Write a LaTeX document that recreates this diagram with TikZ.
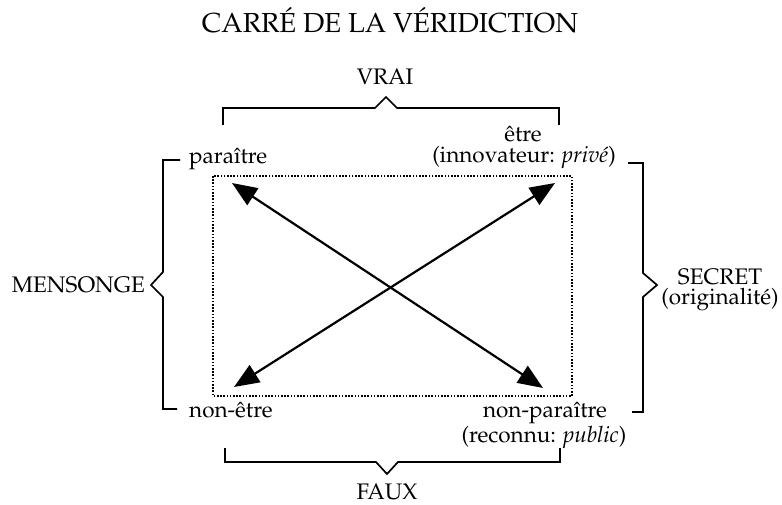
\documentclass[tikz,border=0pt]{standalone}
\usepackage[T1]{fontenc}
\usepackage{mathpazo}
\usetikzlibrary{arrows.meta}
\begin{document}
\begin{tikzpicture}[x=1pt,y=-1pt,
  lab/.style={font=\fontsize{22.5}{26}\selectfont, inner sep=0pt},
  ttl/.style={font=\fontsize{27.5}{32}\selectfont, inner sep=0pt},
  brace/.style={line width=1.7pt, line join=miter},
  dbl/.style={line width=2.2pt, {Triangle[length=25pt,width=20pt]}-{Triangle[length=25pt,width=20pt]}},
  frame/.style={line width=1.6pt, dash pattern=on 1.6pt off 1.6pt}]
\useasboundingbox (0,0) rectangle (782,505);
% title
\node[ttl, anchor=base] (title) at (390,33) {CARR\'E DE LA V\'ERIDICTION};
% braces
\node[lab, anchor=base] (vrai) at (385,85) {VRAI};
\draw[brace] (223,125) -- (223,108) -- (375,108) -- (386,97) -- (397,108) -- (559,108) -- (559,125);
\node[lab, anchor=base] (faux) at (387,499) {FAUX};
\draw[brace] (225,448) -- (225,462) -- (376,462) -- (387,474) -- (398,462) -- (560,462) -- (560,448);
\node[lab, anchor=base east] (mens) at (145,292) {MENSONGE};
\draw[brace] (180,160) -- (163,160) -- (163,272) -- (151,285) -- (163,297) -- (163,409) -- (177,409);
\node[lab, anchor=base] (secret) at (720,284) {SECRET};
\node[lab, anchor=base] (orig) at (720,305) {(originalit\'e)};
\draw[brace] (628,163) -- (643,163) -- (643,273) -- (657,285) -- (643,297) -- (643,412) -- (632,412);
% frame
\draw[frame] (213,176) rectangle (572,396);
% corner labels
\node[lab, anchor=base west] (par) at (189,164) {para\^{\i}tre};
\node[lab, anchor=base] (etre) at (523,142) {\^etre};
\node[lab, anchor=base] (innov) at (524,163) {(innovateur: \textit{priv\'e})};
\node[lab, anchor=base west] (nonetre) at (189,417) {non-\^etre};
\node[lab, anchor=base] (nonpar) at (545,417) {non-para\^{\i}tre};
\node[lab, anchor=base] (recon) at (544,442) {(reconnu: \textit{public})};
% arrows
\coordinate (tl) at (232,183);
\coordinate (br) at (543,388);
\coordinate (tr) at (555,183);
\coordinate (bl) at (234,387);
\draw[dbl] (tl) -- (br);
\draw[dbl] (tr) -- (bl);
\end{tikzpicture}
\end{document}
